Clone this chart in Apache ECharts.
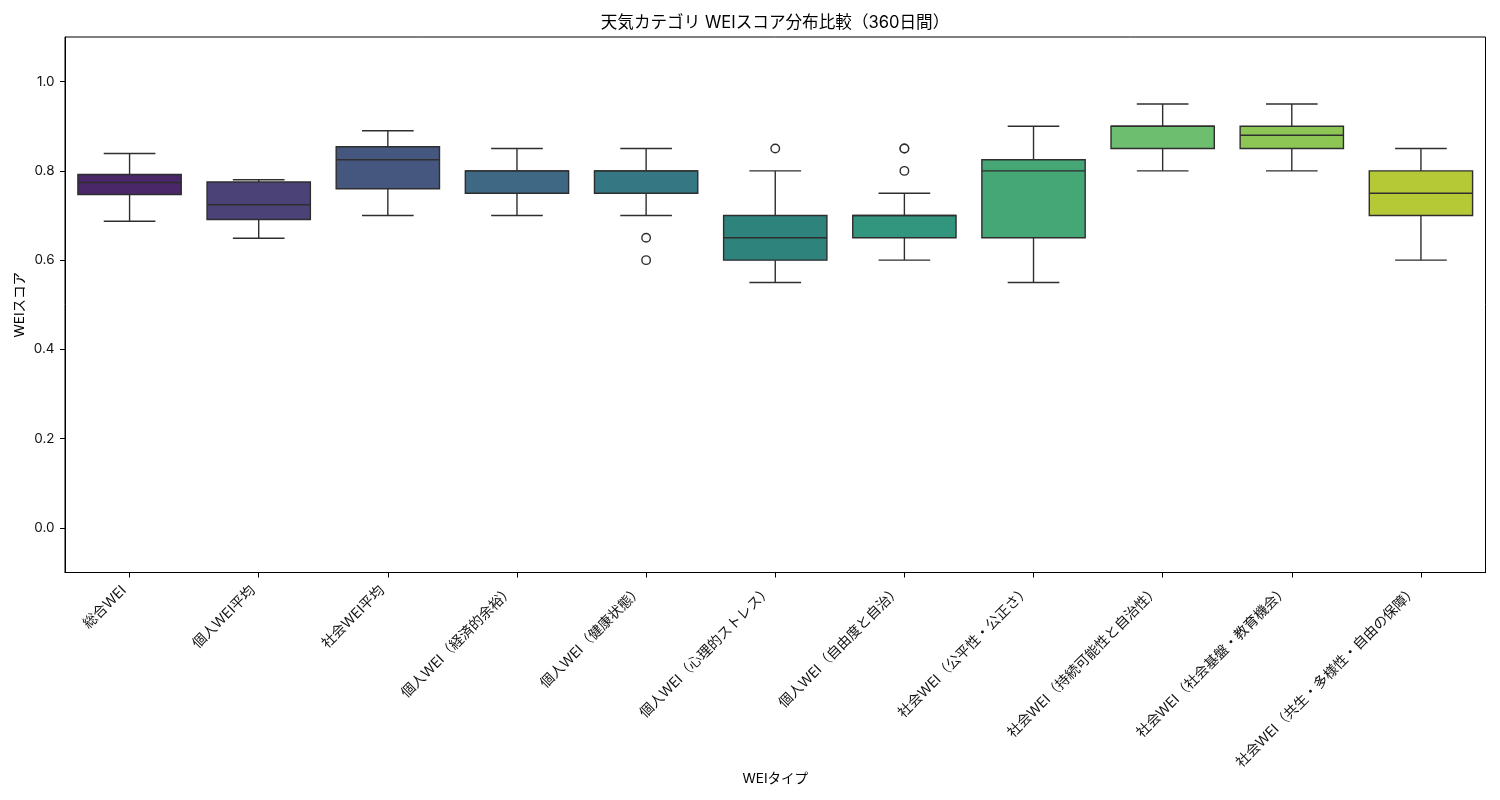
<!DOCTYPE html>
<html>
<head>
<meta charset="utf-8">
<style>html,body{margin:0;padding:0;background:#fff}#chart{width:1500px;height:800px}</style>
<script src="https://cdn.jsdelivr.net/npm/echarts@6/dist/echarts.min.js"></script>
</head>
<body>
<div id="chart"></div>
<script>
var categories = ['総合WEI', '個人WEI平均', '社会WEI平均', '個人WEI（経済的余裕）', '個人WEI（健康状態）', '個人WEI（心理的ストレス）', '個人WEI（自由度と自治）', '社会WEI（公平性・公正さ）', '社会WEI（持続可能性と自治性）', '社会WEI（社会基盤・教育機会）', '社会WEI（共生・多様性・自由の保障）'];
var whiskerLow = [0.687, 0.649, 0.70, 0.70, 0.70, 0.55, 0.60, 0.55, 0.80, 0.80, 0.60];
var q1 = [0.747, 0.691, 0.76, 0.75, 0.75, 0.60, 0.65, 0.65, 0.85, 0.85, 0.70];
var median = [0.774, 0.724, 0.825, 0.80, 0.80, 0.65, 0.70, 0.80, 0.90, 0.88, 0.75];
var q3 = [0.792, 0.775, 0.854, 0.80, 0.80, 0.70, 0.70, 0.825, 0.90, 0.90, 0.80];
var whiskerHigh = [0.839, 0.78, 0.89, 0.85, 0.85, 0.80, 0.75, 0.90, 0.95, 0.95, 0.85];
var outliers = [[4, 0.65], [4, 0.60], [5, 0.85], [6, 0.80], [6, 0.85], [6, 0.85]];
var yTicks = [0, 0.2, 0.4, 0.6, 0.8, 1.0];
var palette = ['#4a2768', '#4b4277', '#46577f', '#3e6883', '#367784', '#2f837d', '#32967e', '#45a676', '#6dbe6e', '#8dc654', '#b5c936'];

var font = 'Inter, "Noto Sans CJK JP", sans-serif';
var lineColor = '#2e2e2e';

var rows = categories.map(function (c, i) {
    return [i, whiskerLow[i], q1[i], median[i], q3[i], whiskerHigh[i]];
});

function renderBox(params, api) {
    var i = api.value(0);
    var band = api.size([1, 0])[0];
    var cx = api.coord([i, 0])[0];
    var y = function (idx) { return api.coord([i, api.value(idx)])[1]; };
    var boxW = band * 0.8;
    var capW = band * 0.4;
    var line = function (x1, y1, x2, y2) {
        return {
            type: 'line',
            shape: { x1: x1, y1: y1, x2: x2, y2: y2 },
            style: { stroke: lineColor, lineWidth: 1.4, fill: null }
        };
    };
    return {
        type: 'group',
        children: [
            line(cx, y(1), cx, y(2)),
            line(cx, y(4), cx, y(5)),
            line(cx - capW / 2, y(1), cx + capW / 2, y(1)),
            line(cx - capW / 2, y(5), cx + capW / 2, y(5)),
            {
                type: 'rect',
                shape: { x: cx - boxW / 2, y: y(4), width: boxW, height: y(2) - y(4) },
                style: { fill: palette[i], stroke: lineColor, lineWidth: 1.4 }
            },
            line(cx - boxW / 2, y(3), cx + boxW / 2, y(3))
        ]
    };
}

var option = {
    animation: false,
    backgroundColor: '#fff',
    textStyle: { fontFamily: font },
    title: {
        text: '天気カテゴリ WEIスコア分布比較（360日間）',
        left: 770,
        top: 10,
        textAlign: 'center',
        textStyle: { fontFamily: font, fontSize: 16.6, fontWeight: 'normal', color: '#000' }
    },
    grid: {
        left: 65,
        right: 14.5,
        top: 37,
        bottom: 227.5,
        show: true,
        borderColor: '#000',
        borderWidth: 1,
        containLabel: false
    },
    xAxis: {
        type: 'category',
        data: categories,
        name: 'WEIタイプ',
        nameLocation: 'middle',
        nameGap: 200,
        nameMoveOverlap: false,
        nameTextStyle: { fontFamily: font, fontSize: 13.5, color: '#000' },
        axisLine: { show: true, onZero: false, lineStyle: { color: '#000', width: 1 } },
        axisTick: { show: true, alignWithLabel: true, length: 5, lineStyle: { color: '#000', width: 1 } },
        axisLabel: { rotate: 45, interval: 0, margin: 10, padding: [0, 8, 0, 0], fontFamily: font, fontSize: 14, color: '#111' },
        splitLine: { show: false }
    },
    yAxis: {
        type: 'value',
        min: -0.1,
        max: 1.1,
        name: 'WEIスコア',
        nameLocation: 'middle',
        nameGap: 38,
        nameMoveOverlap: false,
        nameTextStyle: { fontFamily: font, fontSize: 13.5, color: '#000' },
        axisLine: { show: true, lineStyle: { color: '#000', width: 1 } },
        axisTick: { show: true, length: 5, customValues: yTicks, lineStyle: { color: '#000', width: 1 } },
        axisLabel: {
            margin: 10.5,
            fontFamily: font,
            fontSize: 13.5,
            color: '#111',
            customValues: yTicks,
            formatter: function (v) { return v.toFixed(1); }
        },
        splitLine: { show: false }
    },
    series: [
        {
            type: 'custom',
            silent: true,
            renderItem: renderBox,
            encode: { x: 0, y: [1, 2, 3, 4, 5] },
            data: rows
        },
        {
            type: 'scatter',
            silent: true,
            symbol: 'circle',
            symbolSize: 8.5,
            itemStyle: { color: '#fff', borderColor: lineColor, borderWidth: 1.4, opacity: 1 },
            data: outliers
        }
    ]
};

var myChart = echarts.init(document.getElementById('chart'));
myChart.setOption(option);
</script>
</body>
</html>
